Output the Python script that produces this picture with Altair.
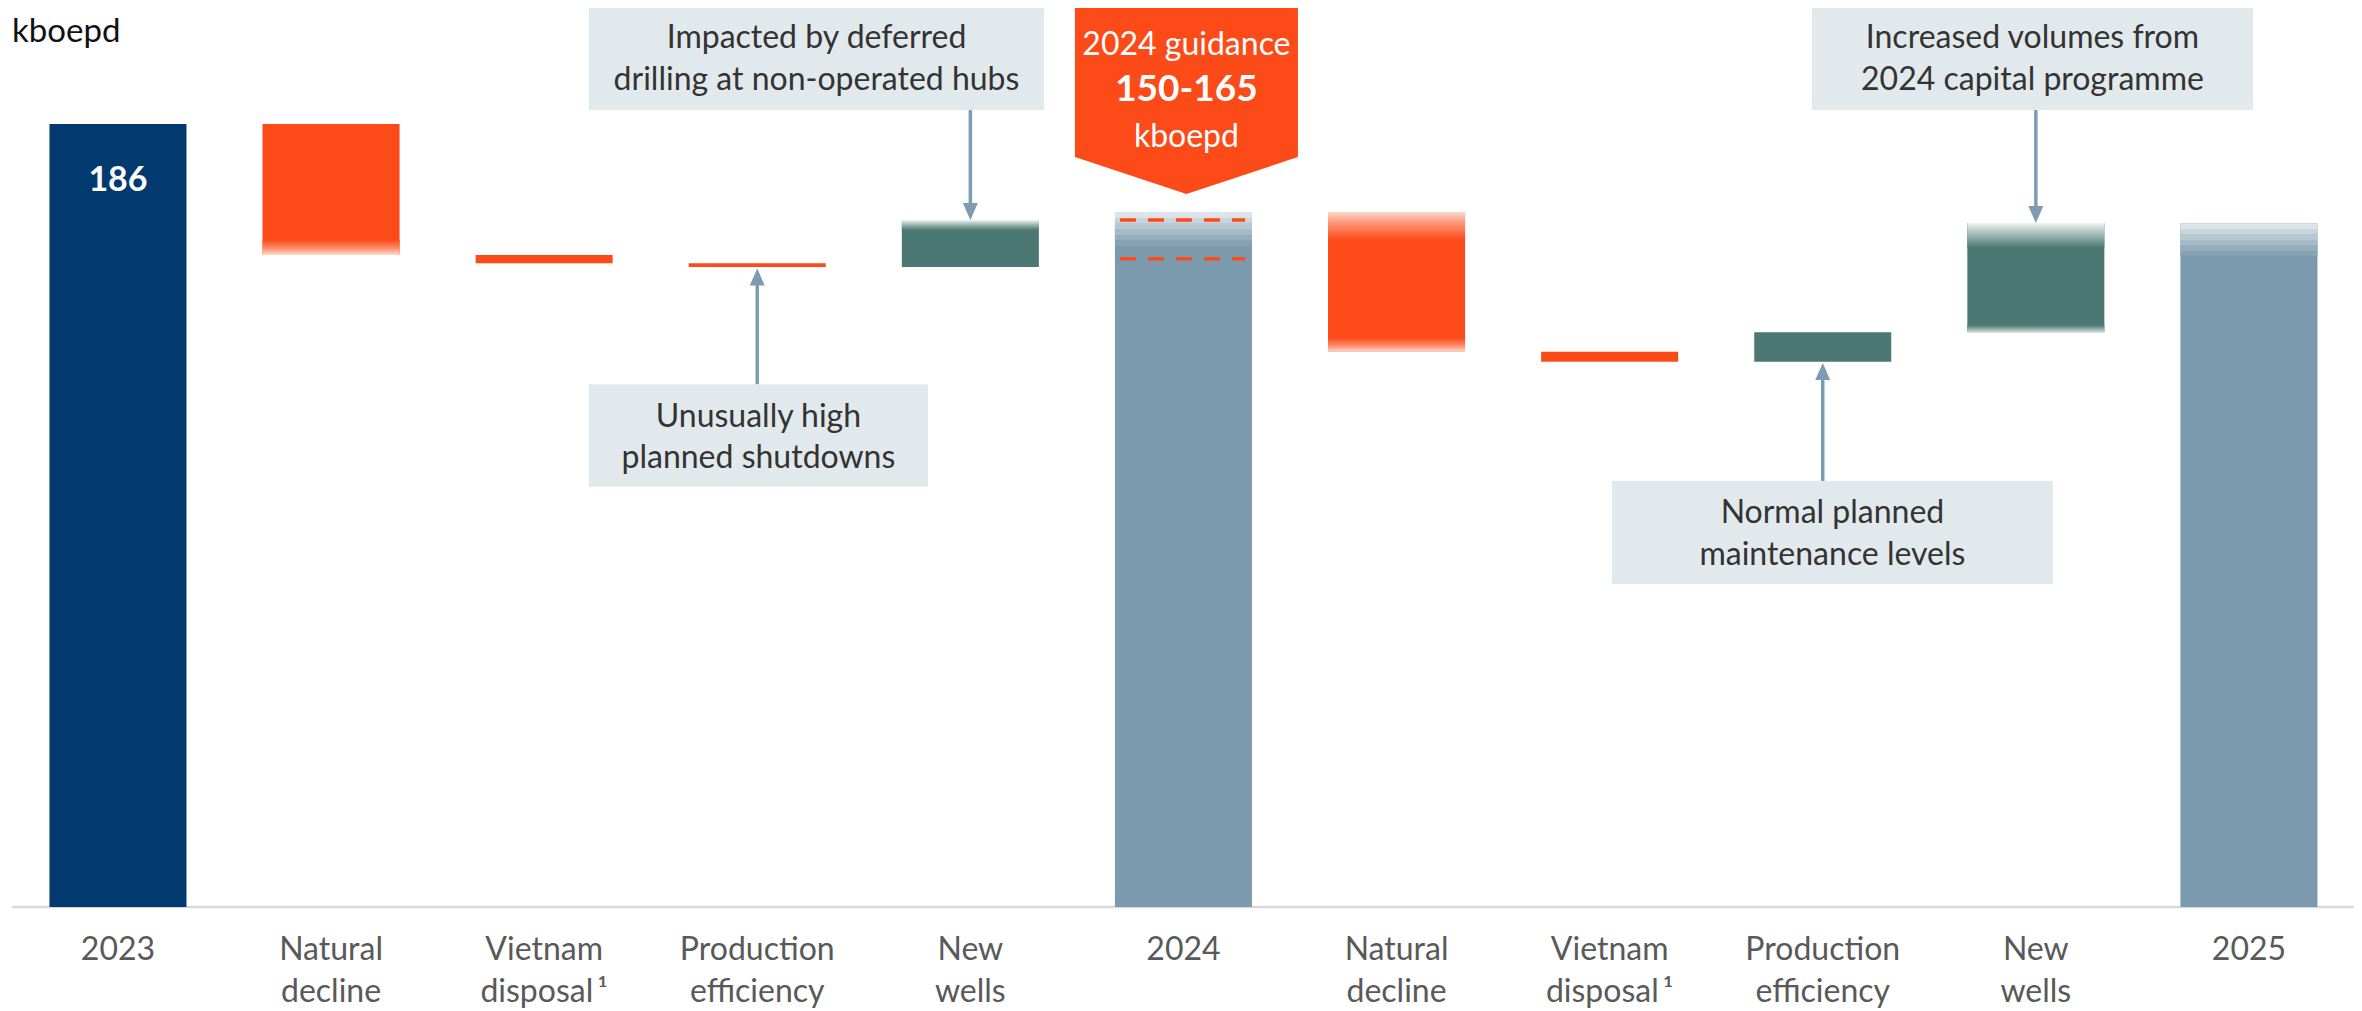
import altair as alt
import pandas as pd

# ---------------- data ----------------
categories = ["2023", "Natural decline", "Vietnam disposal", "Production efficiency", "New wells",
              "2024", "Natural decline (25)", "Vietnam disposal (25)", "Production efficiency (25)",
              "New wells (25)", "2025"]
label_line1 = ["2023", "Natural", "Vietnam", "Production", "New", "2024",
               "Natural", "Vietnam", "Production", "New", "2025"]
label_line2 = ["", "decline", "disposal\u2009\u00b9", "efficiency", "wells", "",
               "decline", "disposal\u2009\u00b9", "efficiency", "wells", ""]
bar_start = [0, 186.0, 154.9, 152.9, 152.0, 0, 165.1, 131.9, 129.5, 136.5, 0]
bar_end = [186.0, 154.9, 152.9, 152.0, 163.2, 165.1, 131.9, 129.5, 136.5, 162.5, 162.4]
bar_kind = ["base", "decrease", "decrease", "decrease", "increase", "total",
            "decrease", "decrease", "increase", "increase", "total"]
# soft (faded) edges of the bars, in kboepd
fade_top = [0, 0, 0, 0, 2.4, 8.1, 6.7, 0, 0, 6.0, 7.8]
fade_bottom = [0, 3.6, 0, 0, 0, 0, 3.3, 0, 0, 1.7, 0]
guidance_levels = [163.2, 154.0]
guidance_text = ["2024 guidance", "150-165", "kboepd"]
unit_label = "kboepd"

notes = [
    {"lines": ["Impacted by deferred", "drilling at non-operated hubs"], "target": 4, "dir": "down"},
    {"lines": ["Unusually high", "planned shutdowns"], "target": 3, "dir": "up"},
    {"lines": ["Increased volumes from", "2024 capital programme"], "target": 9, "dir": "down"},
    {"lines": ["Normal planned", "maintenance levels"], "target": 8, "dir": "up"},
]

# ---------------- styling ----------------
NAVY = "#023a70"
ORANGE = "#fc4a19"
TEAL = "#4b7873"
STEEL = "#7b9aae"
BOX = "#e2e9ed"
ARROW = "#7d9cb1"
TEXT = "#333333"
LABEL = "#595959"
FONT = "Lato"

HALF = 0.3215
xs = alt.Scale(domain=[-0.516, 10.493], nice=False, zero=False)
ys = alt.Scale(domain=[0, 213.55], nice=False, zero=False)

rows = []
for i, c in enumerate(categories):
    lo, hi = min(bar_start[i], bar_end[i]), max(bar_start[i], bar_end[i])
    rows.append(dict(cat=c, i=i, xl=i - HALF, xr=i + HALF, lo=lo, hi=hi, kind=bar_kind[i],
                     ft_lo=hi - fade_top[i], fb_hi=lo + fade_bottom[i],
                     has_ft=fade_top[i] > 0, has_fb=fade_bottom[i] > 0,
                     l1=label_line1[i], l2=label_line2[i], end=bar_end[i]))
df = pd.DataFrame(rows)

base = alt.Chart(df)
X = alt.X("xl:Q", scale=xs, axis=None)
X2 = alt.X2("xr:Q")

solid = base.mark_rect().encode(
    x=X, x2=X2,
    y=alt.Y("lo:Q", scale=ys, axis=None), y2="hi:Q",
    color=alt.Color("kind:N", scale=alt.Scale(domain=["base", "decrease", "increase", "total"],
                                              range=[NAVY, ORANGE, TEAL, STEEL]), legend=None),
)


def grad(stops):
    return alt.LinearGradient(gradient="linear", x1=0, x2=0, y1=0, y2=1,
                              stops=[alt.GradientStop(offset=o, color=c) for o, c in stops])


def top_fade(kind, g):
    return base.mark_rect(color=g).encode(
        x=X, x2=X2, y=alt.Y("ft_lo:Q", scale=ys, axis=None), y2="hi:Q"
    ).transform_filter((alt.datum.kind == kind) & alt.datum.has_ft)


def bottom_fade(kind, g):
    return base.mark_rect(color=g).encode(
        x=X, x2=X2, y=alt.Y("lo:Q", scale=ys, axis=None), y2="fb_hi:Q"
    ).transform_filter((alt.datum.kind == kind) & alt.datum.has_fb)


steel_steps = ["#dde4e9", "#c9d5dd", "#b6c7d2", "#a5b9c6", "#95adbd", "#88a2b4"]
step_stops = []
for k, c in enumerate(steel_steps):
    step_stops += [(k / 6, c), ((k + 1) / 6, c)]

fades = [
    top_fade("decrease", grad([(0, "#fdd9cd"), (0.35, "#fd9a7c"), (1, ORANGE)])),
    bottom_fade("decrease", grad([(0, ORANGE), (0.55, "#fd8a68"), (1, "#fddbd0")])),
    top_fade("increase", grad([(0, "#f1f5f4"), (0.4, "#a9bfbc"), (1, TEAL)])),
    bottom_fade("increase", grad([(0, TEAL), (1, "#d3dfdd")])),
    top_fade("total", grad(step_stops)),
]

axis_line = alt.Chart(pd.DataFrame({"a": [-0.497], "b": [10.493], "y": [0]})).mark_rule(
    color="#d9d9d9", strokeWidth=2.5).encode(
    x=alt.X("a:Q", scale=xs, axis=None), x2="b:Q", y=alt.Y("y:Q", scale=ys, axis=None))

lab1 = base.mark_text(font=FONT, fontSize=32, color=LABEL, baseline="middle").encode(
    x=alt.X("i:Q", scale=xs, axis=None), y=alt.value(942), text="l1:N")
lab2 = base.mark_text(font=FONT, fontSize=32, color=LABEL, baseline="middle").encode(
    x=alt.X("i:Q", scale=xs, axis=None), y=alt.value(984), text="l2:N")

first_val = base.mark_text(font=FONT, fontSize=34, fontWeight="bold", color="white",
                           baseline="middle", dy=57).encode(
    x=alt.X("i:Q", scale=xs, axis=None), y=alt.Y("end:Q", scale=ys, axis=None),
    text=alt.Text("end:Q", format=".0f")
).transform_filter(alt.datum.kind == "base")

guid = alt.Chart(pd.DataFrame({"lvl": guidance_levels, "a": [5 - 0.298] * 2, "b": [5 + 0.289] * 2})).mark_rule(
    color=ORANGE, strokeWidth=3.5, strokeDash=[16, 12]).encode(
    x=alt.X("a:Q", scale=xs, axis=None), x2="b:Q", y=alt.Y("lvl:Q", scale=ys, axis=None))

# ---------------- annotations ----------------
box_geom = [  # x from, x to, y bottom, y top (data units), text line y's
    (2.210, 4.346, 189.3, 213.8, [206.4, 196.45]),
    (2.210, 3.801, 99.8, 124.2, [116.4, 106.6]),
    (7.949, 10.019, 189.3, 213.8, [206.4, 196.45]),
    (7.011, 9.080, 76.7, 101.2, [93.6, 83.6]),
]
box_rows, txt_rows, arr_rows = [], [], []
for n, g in zip(notes, box_geom):
    x0, x1, yb, yt, lys = g
    box_rows.append(dict(x0=x0, x1=x1, yb=yb, yt=yt))
    for line, ly in zip(n["lines"], lys):
        txt_rows.append(dict(x=(x0 + x1) / 2, y=ly, t=line))
    t = n["target"]
    if n["dir"] == "down":
        tip = max(bar_start[t], bar_end[t])
        arr_rows.append(dict(x=t, y0=yb, y1=tip + 2.0, tip=tip, dir="down"))
    else:
        tip = min(bar_start[t], bar_end[t]) - 0.3
        arr_rows.append(dict(x=t, y0=yt, y1=tip - 2.0, tip=tip, dir="up"))

boxes = alt.Chart(pd.DataFrame(box_rows)).mark_rect(color=BOX).encode(
    x=alt.X("x0:Q", scale=xs, axis=None), x2="x1:Q",
    y=alt.Y("yb:Q", scale=ys, axis=None), y2="yt:Q")
box_txt = alt.Chart(pd.DataFrame(txt_rows)).mark_text(font=FONT, fontSize=32, color=TEXT,
                                                      baseline="middle").encode(
    x=alt.X("x:Q", scale=xs, axis=None), y=alt.Y("y:Q", scale=ys, axis=None), text="t:N")

adf = pd.DataFrame(arr_rows)
shafts = alt.Chart(adf).mark_rule(color=ARROW, strokeWidth=3.5).encode(
    x=alt.X("x:Q", scale=xs, axis=None), y=alt.Y("y0:Q", scale=ys, axis=None), y2="y1:Q")
head_down = alt.Chart(adf).mark_point(shape="M-0.88,-1L0.88,-1L0,1Z", filled=True, opacity=1,
                                      color=ARROW, size=289, yOffset=-8.5).encode(
    x=alt.X("x:Q", scale=xs, axis=None), y=alt.Y("tip:Q", scale=ys, axis=None)
).transform_filter(alt.datum.dir == "down")
head_up = alt.Chart(adf).mark_point(shape="M-0.88,1L0.88,1L0,-1Z", filled=True, opacity=1,
                                    color=ARROW, size=289, yOffset=8.5).encode(
    x=alt.X("x:Q", scale=xs, axis=None), y=alt.Y("tip:Q", scale=ys, axis=None)
).transform_filter(alt.datum.dir == "up")

penta = alt.Chart(pd.DataFrame({"x": [5.014], "y": [191.58]})).mark_point(
    shape="M-1,-0.839L1,-0.839L1,0.507L0,0.839L-1,0.507Z", filled=True, opacity=1,
    color=ORANGE, size=223 * 223).encode(
    x=alt.X("x:Q", scale=xs, axis=None), y=alt.Y("y:Q", scale=ys, axis=None))
penta_df = pd.DataFrame({"x": [5.014] * 3, "y": [204.7, 194.1, 182.9], "t": guidance_text,
                         "w": ["normal", "bold", "normal"]})
penta_txt = alt.Chart(penta_df).mark_text(font=FONT, fontSize=32, color="white",
                                          baseline="middle").encode(
    x=alt.X("x:Q", scale=xs, axis=None), y=alt.Y("y:Q", scale=ys, axis=None), text="t:N"
).transform_filter(alt.datum.w == "normal")
penta_bold = alt.Chart(penta_df).mark_text(font=FONT, fontSize=37, fontWeight="bold", color="white",
                                           baseline="middle").encode(
    x=alt.X("x:Q", scale=xs, axis=None), y=alt.Y("y:Q", scale=ys, axis=None), text="t:N"
).transform_filter(alt.datum.w == "bold")

unit = alt.Chart(pd.DataFrame({"x": [-0.497], "y": [207.9], "t": [unit_label]})).mark_text(
    font=FONT, fontSize=33, color="#111111", align="left", baseline="middle").encode(
    x=alt.X("x:Q", scale=xs, axis=None), y=alt.Y("y:Q", scale=ys, axis=None), text="t:N")

chart = alt.layer(
    axis_line, solid, *fades, guid, first_val, lab1, lab2,
    boxes, box_txt, shafts, head_down, head_up, penta, penta_txt, penta_bold, unit
).properties(
    width=2346, height=899,
    autosize=alt.AutoSizeParams(type="none"),
    padding={"left": 0, "top": 0, "right": 0, "bottom": 104},
).configure_view(stroke=None)

chart.save("out.html", embed_options={"renderer": "svg", "actions": False})
